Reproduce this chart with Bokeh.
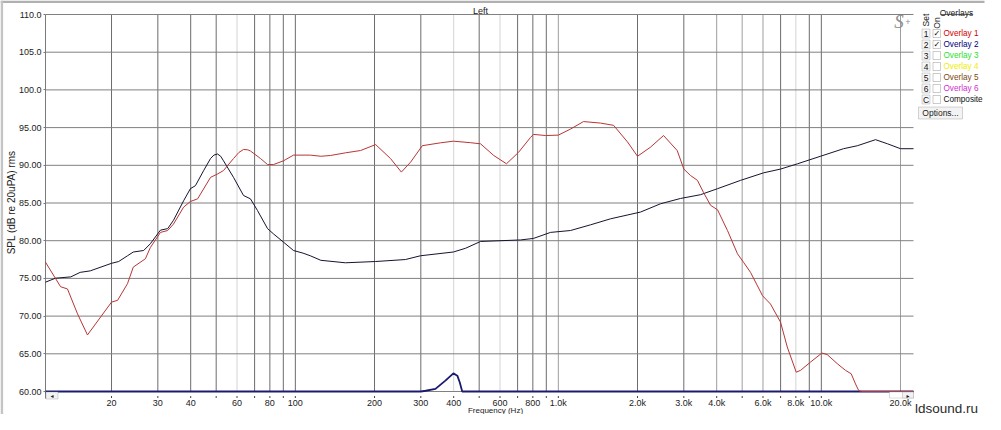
import math
from bokeh.plotting import figure
from bokeh.models import Range1d, FixedTicker, CustomJSTickFormatter, Label, BoxAnnotation
from bokeh.embed import file_html
from bokeh.resources import INLINE

# ---------------- data ----------------
red_freq = [11.22, 12.8, 13.6, 14.85, 16.2, 18.2, 20.0, 21.1, 23.0, 24.2, 26.9, 28.1, 30.7,
            32.7, 34.4, 37.6, 39.9, 42.5, 47.6, 50.6, 53.3, 58.2, 61.0, 63.5, 66.0, 67.5,
            73.7, 78.4, 82.6, 90.2, 98.4, 114, 125, 136, 155, 177, 202, 230, 253, 274, 304,
            356, 399, 463, 506, 568, 635, 705, 784, 804, 894, 1000, 1112, 1246, 1446, 1622,
            1832, 2000, 2240, 2512, 2831, 3000, 3180, 3380, 3565, 3790, 4030, 4397, 4800,
            5058, 5380, 5976, 6408, 6996, 7420, 8025, 8334, 9096, 10050, 10527, 11490,
            12360, 12990, 13490, 13880, 14200, 22410]
red_db = [77.15, 73.9, 73.6, 70.3, 67.5, 69.9, 71.85, 72.1, 74.3, 76.5, 77.6, 79.1, 81.1,
          81.35, 82.2, 84.45, 85.2, 85.55, 88.4, 88.85, 89.3, 90.9, 91.7, 92.1, 92.05, 91.9,
          90.9, 90.1, 90.1, 90.6, 91.35, 91.35, 91.2, 91.3, 91.65, 91.96, 92.75, 90.9, 89.1,
          90.4, 92.6, 92.98, 93.2, 93.0, 92.85, 91.3, 90.2, 91.7, 93.7, 94.1, 93.95, 94.0,
          94.8, 95.8, 95.6, 95.3, 93.1, 91.2, 92.4, 93.95, 91.96, 89.5, 88.65, 88.0, 86.4,
          84.7, 84.1, 81.35, 78.26, 77.15, 75.8, 72.7, 71.6, 69.2, 65.9, 62.56, 62.8, 63.9,
          65.1, 64.9, 63.7, 62.8, 62.35, 61.0, 60.1, 60.0, 60.0]

main_freq = [11.22, 12.25, 14.0, 15.2, 16.6, 20.0, 21.3, 23.0, 24.2, 26.5, 28.1, 30.7, 32.7,
             34.4, 37.6, 39.9, 41.7, 44.8, 47.6, 49.0, 50.6, 52.0, 53.3, 58.2, 63.5, 67.5,
             71.8, 78.4, 82.6, 90.2, 98.4, 107, 114, 125, 155, 202, 262, 299, 399, 444, 506,
             718, 804, 934, 1112, 1324, 1578, 2054, 2447, 2914, 3471, 4030, 4928, 6030, 6996,
             8118, 9928, 12144, 13726, 16070, 17852, 20000, 22410]
main_db = [74.5, 75.03, 75.2, 75.8, 76.0, 77.0, 77.24, 78.0, 78.5, 78.7, 79.6, 81.4, 81.6,
           82.7, 85.3, 86.9, 87.3, 89.3, 90.9, 91.35, 91.5, 91.2, 90.6, 88.4, 86.0, 85.55,
           84.0, 81.6, 80.9, 79.8, 78.7, 78.35, 78.0, 77.4, 77.07, 77.24, 77.5, 78.0, 78.5,
           79.0, 79.9, 80.1, 80.3, 81.1, 81.35, 82.1, 82.9, 83.8, 84.9, 85.6, 86.1, 86.9,
           88.0, 89.0, 89.5, 90.2, 91.2, 92.2, 92.6, 93.4, 92.85, 92.2, 92.2]

low_freq = [11.22, 300, 313, 341, 372, 399, 413, 422, 431, 22410]
low_db = [60.0, 60.0, 60.1, 60.35, 61.45, 62.4, 62.1, 61.2, 60.0, 60.0]

x_major = [20, 30, 40, 60, 80, 100, 200, 300, 400, 600, 800, 1000, 2000, 3000, 4000,
           6000, 8000, 10000, 20000]
x_minor = [50, 70, 90, 500, 700, 900, 5000, 7000, 9000]
y_ticks = [60, 65, 70, 75, 80, 85, 90, 95, 100, 105, 110]

grid_dark = [20, 30, 40, 50, 70, 80, 90, 100, 200, 300, 500, 700, 800, 900, 2000, 3000,
             7000, 9000, 10000]
grid_mid = [1000, 4000, 5000, 6000, 20000]
grid_light = [60, 400, 600, 8000]

overlay_sets = ["1", "2", "3", "4", "5", "6", "C"]
overlay_names = ["Overlay 1", "Overlay 2", "Overlay 3", "Overlay 4", "Overlay 5",
                 "Overlay 6", "Composite"]
overlay_colors = ["#d40000", "#000080", "#2ee02e", "#eeee00", "#7a4a10", "#d030d0", "#111111"]
overlay_on = [True, True, False, False, False, False, False]

title_text = "Left"
x_label = "Frequency (Hz)"
y_label = "SPL (dB re 20uPA) rms"

# axis limits of the plotted region
F_L, F_R = 11.22, 22410.0
DB_B, DB_T = 60.0, 110.0

# ---------------- layout (pixels of the picture) ----------------
W, H = 985, 414
PX_L, PX_R, PY_T, PY_B = 45, 913, 14, 391

dpp = (math.log10(F_R) - math.log10(F_L)) / (PX_R - PX_L)     # decades per pixel
dbpp = (DB_T - DB_B) / (PY_B - PY_T)                           # dB per pixel
x_start = 10 ** (math.log10(F_L) - PX_L * dpp)
x_end = 10 ** (math.log10(F_L) + (W - PX_L) * dpp)
y_start = DB_B - (H - PY_B) * dbpp
y_end = DB_T + PY_T * dbpp


def dby(py):
    return DB_B + (PY_B - py) * dbpp


p = figure(width=W, height=H, x_axis_type="log", title=None,
           x_range=Range1d(x_start, x_end), y_range=Range1d(y_start, y_end),
           output_backend="svg", toolbar_location=None, min_border=0,
           background_fill_color="white", border_fill_color="white")
p.outline_line_color = None
p.xgrid.visible = False
p.ygrid.visible = False

# grid lines of the plot area
for ticks, col in [(grid_light, "#d4d4d4"), (grid_mid, "#9e9e9e"), (grid_dark, "#6c6c6c")]:
    p.segment(x0=ticks, y0=[DB_B] * len(ticks), x1=ticks, y1=[DB_T] * len(ticks),
              line_color=col, line_width=1)
p.segment(x0=[F_L] * len(y_ticks), y0=y_ticks, x1=[F_R] * len(y_ticks), y1=y_ticks,
          line_color="#808080", line_width=1)

# left axis line (extends a little below the floor) and tick dots under the x axis
p.segment(x0=[F_L], y0=[dby(398)], x1=[F_L], y1=[DB_T], line_color="#7a7a7a", line_width=1)
all_x_ticks = x_major + x_minor
p.segment(x0=all_x_ticks, y0=[dby(395.5)] * len(all_x_ticks), x1=all_x_ticks,
          y1=[dby(397.5)] * len(all_x_ticks), line_color="#444444", line_width=1)

# curves
p.line(low_freq, low_db, line_color="#1a1a6e", line_width=1.8)
p.line(main_freq, main_db, line_color="#141430", line_width=1)
p.line(red_freq, red_db, line_color="#b83535", line_width=1)

FONT = "Liberation Sans"

xa = p.xaxis[0]
xa.fixed_location = DB_B
xa.ticker = FixedTicker(ticks=x_major, minor_ticks=[])
xa.formatter = CustomJSTickFormatter(
    code="return tick >= 1000 ? (tick/1000).toFixed(1) + 'k' : tick.toFixed(0);")
xa.axis_line_color = None
xa.major_tick_line_color = None
xa.minor_tick_line_color = None
xa.major_tick_in = 0
xa.major_tick_out = 0
xa.major_label_standoff = 6
xa.major_label_text_font = FONT
xa.major_label_text_font_size = "9px"
xa.major_label_text_color = "#222222"

ya = p.yaxis[0]
ya.fixed_location = F_L
ya.ticker = FixedTicker(ticks=y_ticks, minor_ticks=[])
ya.formatter = CustomJSTickFormatter(
    code="return tick >= 100 ? tick.toFixed(1) : tick.toFixed(2);")
ya.axis_line_color = None
ya.major_tick_in = 0
ya.major_tick_out = 2
ya.major_tick_line_color = "#7a7a7a"
ya.minor_tick_line_color = None
ya.major_label_standoff = 2
ya.major_label_text_font = FONT
ya.major_label_text_font_size = "9px"
ya.major_label_text_color = "#222222"


# screen helpers: picture pixel -> screen coords (frame == canvas, y up)
def sx(px):
    return px


def sy(py):
    return H - py


def label(text, px, py, size="9px", color="#222222", align="left", baseline="middle",
          angle=0.0, font=FONT, style="normal"):
    p.add_layout(Label(x=sx(px), y=sy(py), x_units="screen", y_units="screen", text=text,
                       text_font=font, text_font_size=size, text_color=color,
                       text_align=align, text_baseline=baseline, angle=angle,
                       text_font_style=style, level="annotation"))


def box(px0, py0, px1, py1, fill=None, line="#808080", lw=1):
    p.add_layout(BoxAnnotation(left=sx(px0), right=sx(px1), top=sy(py0), bottom=sy(py1),
                               left_units="screen", right_units="screen",
                               top_units="screen", bottom_units="screen",
                               fill_color=fill, fill_alpha=1.0 if fill else 0.0,
                               line_color=line, line_width=lw, level="annotation"))


# window frame pieces
box(0, 0, 984, 2.6, fill="#b0b0b0", line=None)
box(0, 0, 2.6, H, fill="#c4c4c4", line=None)

# titles / axis labels
label(title_text, 480, 10.5, size="9px", align="center", baseline="alphabetic")
label(x_label, 495, 410.3, size="8px", align="center", baseline="alphabetic")
label(y_label, 10.5, 202, size="10px", align="center", angle=math.pi / 2)

# S+ logo
label("S", 898.5, 20.5, size="19px", color="#909090", align="center",
      font="Liberation Serif", style="italic")
label("+", 907.5, 21.5, size="9px", color="#909090", align="center")

# overlays panel
label("Overlays", 956, 12, size="8.5px", align="center", baseline="alphabetic")
box(940, 13.4, 972, 14.2, fill="#333333", line=None)
label("Set", 925.5, 19.5, size="8.5px", align="center", angle=math.pi / 2)
label("On", 936, 22.5, size="8.5px", align="center", angle=math.pi / 2)
for i, (s, name, col, on) in enumerate(zip(overlay_sets, overlay_names, overlay_colors,
                                           overlay_on)):
    cy = 33 + 11 * i
    box(921.5, cy - 4.5, 929.5, cy + 4.5, fill="#f6f6f6", line="#7a7a7a")
    label(s, 925.5, cy + 0.5, size="8.5px", color="#111111", align="center")
    box(932.5, cy - 4, 940, cy + 4, fill="white", line="#555555")
    if on:
        label("\u2713", 936.3, cy, size="8px", color="#000000", align="center",
              font="DejaVu Sans", style="bold")
    label(name, 943, cy, size="8.2px", color=col)

box(918, 106.5, 962, 118.5, fill="#f3f3f3", line="#777777")
label("Options...", 940, 112.5, size="8.5px", align="center")

# scroll buttons
box(45.5, 391.5, 57.5, 398.5, fill="#f2f2f2", line="#808080")
label("\u25c2", 51.5, 395, size="6px", color="#222222", align="center", font="DejaVu Sans")
box(889, 391.5, 913, 397.5, fill="white", line="#909090")
box(902, 391.5, 913, 397.5, fill="#f2f2f2", line="#808080")
label("\u25b8", 907.5, 394.5, size="6px", color="#222222", align="center", font="DejaVu Sans")

# watermark (kept well inside the canvas)
label("ldsound.ru", 946, 407.5, size="13.5px", color="#2a2a2a", align="center",
      baseline="alphabetic")

open("out.html", "w").write(file_html(p, INLINE))
